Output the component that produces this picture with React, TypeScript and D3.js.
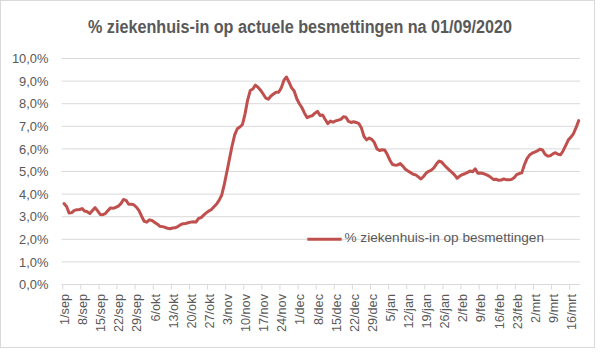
import React from "react";
import * as d3 from "d3";

const monthsNl = ["jan", "feb", "mrt", "apr", "mei", "jun", "jul", "aug", "sep", "okt", "nov", "dec"];
const startDate = new Date(2020, 8, 1);
const endDate = new Date(2021, 2, 20);
const categories = d3.timeDay.range(startDate, endDate).map((d) => `${d.getDate()}/${monthsNl[d.getMonth()]}`);

const tickLabels = [
  "1/sep", "8/sep", "15/sep", "22/sep", "29/sep", "6/okt", "13/okt", "20/okt", "27/okt",
  "3/nov", "10/nov", "17/nov", "24/nov", "1/dec", "8/dec", "15/dec", "22/dec", "29/dec",
  "5/jan", "12/jan", "19/jan", "26/jan", "2/feb", "9/feb", "16/feb", "23/feb", "2/mrt", "9/mrt", "16/mrt",
];

const yTicks = [0, 1, 2, 3, 4, 5, 6, 7, 8, 9, 10];

const seriesName = "% ziekenhuis-in op besmettingen";
const title = "% ziekenhuis-in op actuele besmettingen na 01/09/2020";

// % values per day, 1 sep 2020 .. 19 mrt 2021
const values = [
  3.58, 3.45, 3.16, 3.18, 3.28, 3.31, 3.32, 3.36, 3.25, 3.22,
  3.14, 3.27, 3.40, 3.26, 3.10, 3.09, 3.14, 3.27, 3.39, 3.37,
  3.41, 3.47, 3.58, 3.76, 3.72, 3.55, 3.55, 3.53, 3.42, 3.27,
  3.02, 2.80, 2.76, 2.86, 2.83, 2.75, 2.68, 2.58, 2.56, 2.53,
  2.49, 2.47, 2.50, 2.51, 2.56, 2.64, 2.69, 2.70, 2.73, 2.76,
  2.78, 2.76, 2.92, 2.96, 3.07, 3.17, 3.25, 3.32, 3.44, 3.56,
  3.73, 3.96, 4.44, 5.00, 5.57, 6.14, 6.62, 6.89, 6.97, 7.08,
  7.55, 8.16, 8.58, 8.65, 8.82, 8.73, 8.60, 8.43, 8.25, 8.20,
  8.34, 8.43, 8.51, 8.51, 8.70, 9.03, 9.18, 8.95, 8.70, 8.56,
  8.22, 8.00, 7.82, 7.58, 7.38, 7.44, 7.47, 7.58, 7.66, 7.48,
  7.50, 7.30, 7.12, 7.23, 7.18, 7.24, 7.27, 7.31, 7.42, 7.40,
  7.22, 7.17, 7.20, 7.17, 7.12, 6.92, 6.55, 6.40, 6.48, 6.42,
  6.28, 6.00, 5.93, 5.96, 5.95, 5.75, 5.50, 5.31, 5.28, 5.29,
  5.35, 5.24, 5.10, 5.02, 4.95, 4.88, 4.85, 4.76, 4.67, 4.78,
  4.93, 5.01, 5.06, 5.16, 5.33, 5.46, 5.42, 5.29, 5.17, 5.06,
  4.96, 4.85, 4.70, 4.80, 4.86, 4.90, 4.96, 5.02, 4.99, 5.12,
  4.92, 4.93, 4.91, 4.87, 4.82, 4.74, 4.65, 4.66, 4.61, 4.62,
  4.67, 4.64, 4.64, 4.65, 4.72, 4.86, 4.91, 4.94, 5.30, 5.57,
  5.73, 5.81, 5.86, 5.91, 5.99, 5.95, 5.76, 5.68, 5.70, 5.78,
  5.83, 5.76, 5.74, 5.92, 6.16, 6.40, 6.52, 6.68, 6.95, 7.25,
];

const W = 600;
const H = 357;
const plotLeft = 62.7;
const plotRight = 580;
const yBottom = 284.5;
const yTop = 58.5;
const gridColor = "#d9d9d9";
const textColor = "#595959";
const lineColor = "#C0504D";
const font = "'Liberation Sans', Arial, sans-serif";

export default function App() {
  const x = d3.scaleBand<string>().domain(categories).range([plotLeft, plotRight]).padding(0);
  const y = d3.scaleLinear().domain([0, 10]).range([yBottom, yTop]);
  const bw = x.bandwidth();

  const line = d3
    .line<number>()
    .x((_, i) => (x(categories[i]) as number) + bw / 2)
    .y((v) => y(v));

  const fmt = (v: number) => d3.format(".1f")(v).replace(".", ",") + "%";

  return (
    <svg
      width={W}
      height={H}
      style={{ position: "absolute", left: 0, top: 0, background: "#fff" }}
      fontFamily={font}
    >
      <rect x={0.5} y={0.5} width={594} height={347} fill="#fff" stroke={gridColor} strokeWidth={1} />
      <text
        x={300}
        y={33}
        textAnchor="middle"
        fontSize={17.5}
        fontWeight="bold"
        fill={textColor}
        textLength={424}
        lengthAdjust="spacingAndGlyphs"
      >
        {title}
      </text>

      {yTicks.map((t) => (
        <g key={t}>
          <line x1={61.7} x2={plotRight} y1={y(t)} y2={y(t)} stroke={gridColor} strokeWidth={1} />
          <text x={48.5} y={y(t)} dy="0.36em" textAnchor="end" fontSize={12.9} fill={textColor}>
            {fmt(t)}
          </text>
        </g>
      ))}

      {tickLabels.map((lab) => {
        const x0 = x(lab) as number;
        return (
          <g key={lab}>
            <line x1={x0} x2={x0} y1={yBottom} y2={yBottom + 5} stroke={gridColor} strokeWidth={1} />
            <text
              transform={`translate(${x0 + bw / 2 + 0.5},294) rotate(-90)`}
              textAnchor="end"
              dy="0.36em"
              fontSize={12.7}
              fill={textColor}
            >
              {lab}
            </text>
          </g>
        );
      })}

      <path
        d={line(values) as string}
        fill="none"
        stroke={lineColor}
        strokeWidth={3}
        strokeLinejoin="round"
        strokeLinecap="round"
      />

      <line x1={307.3} x2={341.7} y1={y(2)} y2={y(2)} stroke={lineColor} strokeWidth={3} />
      <text x={344.5} y={242.3} fontSize={13.6} fill={textColor}>
        {seriesName}
      </text>
    </svg>
  );
}
